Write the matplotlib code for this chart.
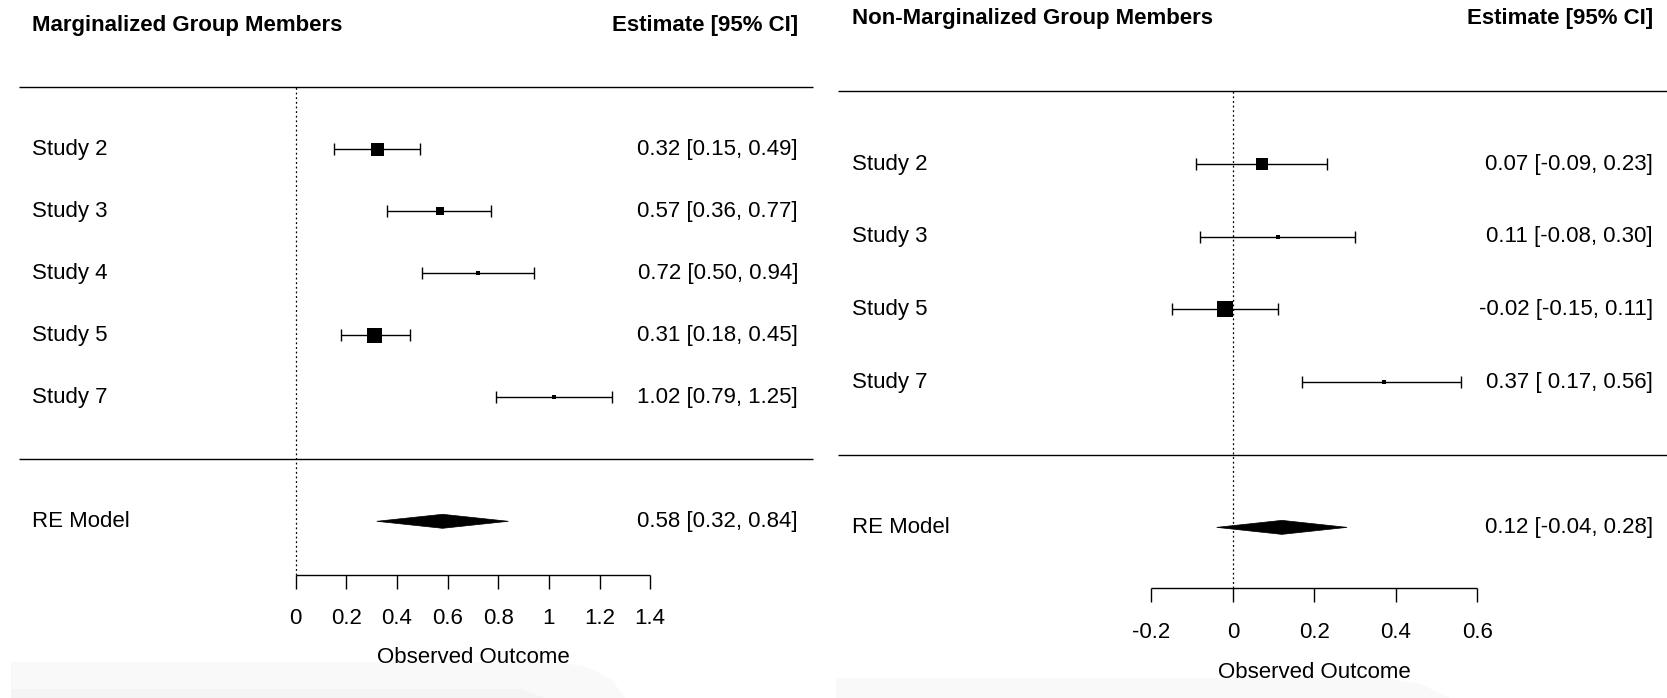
import matplotlib
matplotlib.use("Agg")
import matplotlib.pyplot as plt
from matplotlib.patches import Polygon, PathPatch
from matplotlib.path import Path

plt.rcParams["font.family"] = ["Liberation Sans", "DejaVu Sans"]

# ---- data -------------------------------------------------------------
marg_studies = ["Study 2", "Study 3", "Study 4", "Study 5", "Study 7"]
marg_est = [0.32, 0.57, 0.72, 0.31, 1.02]
marg_lo = [0.15, 0.36, 0.50, 0.18, 0.79]
marg_hi = [0.49, 0.77, 0.94, 0.45, 1.25]
marg_re = (0.58, 0.32, 0.84)
marg_ticks = [0, 0.2, 0.4, 0.6, 0.8, 1.0, 1.2, 1.4]

non_studies = ["Study 2", "Study 3", "Study 5", "Study 7"]
non_est = [0.07, 0.11, -0.02, 0.37]
non_lo = [-0.09, -0.08, -0.15, 0.17]
non_hi = [0.23, 0.30, 0.11, 0.56]
non_re = (0.12, -0.04, 0.28)
non_ticks = [-0.2, 0, 0.2, 0.4, 0.6]

# square side lengths (pixels), reflecting study weights
marg_sq = [13, 7.5, 5, 15, 4]
non_sq = [11.5, 5, 16, 4]

W, H = 1667, 698
FS = 16

fig = plt.figure(figsize=(W / 100, H / 100), dpi=100)
fig.patch.set_facecolor("white")


def fy(py):
    return 1 - py / H


def band(pts, color):
    verts = [(x / W, fy(y)) for x, y in pts]
    codes = [Path.MOVETO] + [Path.LINETO] * (len(verts) - 2) + [Path.CLOSEPOLY]
    p = PathPatch(Path(verts, codes), transform=fig.transFigure,
                  facecolor=color, edgecolor="none", zorder=-5)
    fig.patches.append(p)


# faint grey bands along the bottom
band([(11, 662), (560, 662), (590, 668), (612, 680), (625, 698), (11, 698), (11, 662)], "#f9f9f9")
band([(11, 689), (520, 689), (545, 698), (11, 698), (11, 689)], "#f4f4f4")
band([(836, 678), (1380, 678), (1420, 684), (1450, 698), (836, 698), (836, 678)], "#f9f9f9")


def fmt_ci(est, lo, hi, wlo, whi):
    return f"{est:.2f} [{lo:{wlo}.2f}, {hi:{whi}.2f}]"


def forest(ax, title, studies, est, lo, hi, re, ticks, sq, px_per_row,
           xlim, ylim, hl_x, lab_x, est_x, axis_y, tick_len,
           ticklab_y, xlab_y):
    ax.set_xlim(*xlim)
    ax.set_ylim(*ylim)
    ax.axis("off")
    k = len(studies)
    rows = list(range(k, 0, -1))

    wlo = max(len(f"{v:.2f}") for v in lo + [re[1]])
    whi = max(len(f"{v:.2f}") for v in hi + [re[2]])

    # header
    ax.text(lab_x, k + 2, title, fontsize=FS, fontweight="bold",
            ha="left", va="center")
    ax.text(est_x, k + 2, "Estimate [95% CI]", fontsize=FS,
            fontweight="bold", ha="right", va="center")

    # separators
    ax.plot(hl_x, [k + 1, k + 1], color="black", lw=1.0, solid_capstyle="butt")
    ax.plot(hl_x, [0, 0], color="black", lw=1.0, solid_capstyle="butt")

    # reference line at zero
    ax.plot([0, 0], [axis_y, k + 1], color="black", lw=0.9,
            ls=(0, (1.5, 2.2)))

    # study confidence intervals and squares
    xerr = [[e - l for e, l in zip(est, lo)], [h - e for e, h in zip(est, hi)]]
    ax.errorbar(est, rows, xerr=xerr, fmt="none", ecolor="black",
                elinewidth=1.0, capsize=4.0, capthick=1.0)
    for e, r, s in zip(est, rows, sq):
        ax.plot(e, r, marker="s", color="black", markersize=s * 0.72,
                markeredgewidth=0, linestyle="none")

    for name, r, e, l, h in zip(studies, rows, est, lo, hi):
        ax.text(lab_x, r, name, fontsize=FS, ha="left", va="center")
        ax.text(est_x, r, fmt_ci(e, l, h, wlo, whi), fontsize=FS,
                ha="right", va="center")

    # pooled estimate diamond
    m, l, h = re
    dh = 7.0 / px_per_row
    ax.add_patch(Polygon([(l, -1), (m, -1 + dh), (h, -1), (m, -1 - dh)],
                         closed=True, facecolor="black", edgecolor="black",
                         lw=0.5))
    ax.text(lab_x, -1, "RE Model", fontsize=FS, ha="left", va="center")
    ax.text(est_x, -1, fmt_ci(m, l, h, wlo, whi), fontsize=FS,
            ha="right", va="center")

    # x axis
    ax.plot([ticks[0], ticks[-1]], [axis_y, axis_y], color="black", lw=1.0,
            solid_capstyle="butt")
    for t in ticks:
        ax.plot([t, t], [axis_y, axis_y - tick_len], color="black", lw=1.0,
                solid_capstyle="butt")
        ax.text(t, ticklab_y, f"{t:g}", fontsize=FS, ha="center", va="center")
    ax.text((ticks[0] + ticks[-1]) / 2, xlab_y, "Observed Outcome",
            fontsize=FS, ha="center", va="center")


# left panel: marginalized group members
ax1 = fig.add_axes([0, 0, 834 / W, 1])
ax1.patch.set_alpha(0)
ax1.set_zorder(2)
forest(ax1, "Marginalized Group Members", marg_studies, marg_est, marg_lo,
       marg_hi, marg_re, marg_ticks, marg_sq, 62.0,
       xlim=(-1.168, 2.126), ylim=(-3.85, 7.408),
       hl_x=[-1.094, 2.042], lab_x=-1.041, est_x=1.984,
       axis_y=-1.866, tick_len=0.23, ticklab_y=-2.56, xlab_y=-3.2)

# right panel: non-marginalized group members
ax2 = fig.add_axes([834 / W, 0, 833 / W, 1])
ax2.patch.set_alpha(0)
ax2.set_zorder(2)
forest(ax2, "Non-Marginalized Group Members", non_studies, non_est, non_lo,
       non_hi, non_re, non_ticks, non_sq, 72.67,
       xlim=(-0.979, 1.065), ylim=(-3.348, 6.257),
       hl_x=[-0.97, 1.07], lab_x=-0.934, est_x=1.030,
       axis_y=-1.835, tick_len=0.195, ticklab_y=-2.44, xlab_y=-3.0)

fig.savefig("out.png", dpi=100)
